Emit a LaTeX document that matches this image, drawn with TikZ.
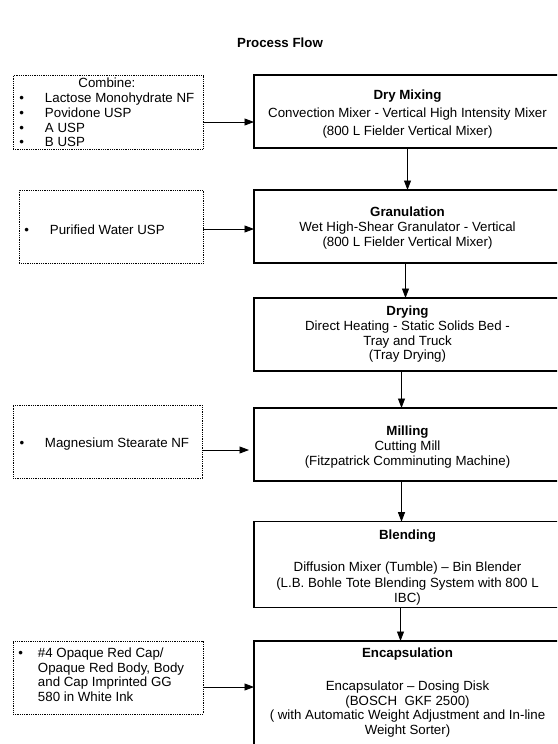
\documentclass[tikz,border=0pt]{standalone}
\usepackage{fontspec}
\setmainfont{Liberation Sans}
\usetikzlibrary{arrows.meta}
\newcommand\tstrut{\rule{0pt}{14.5pt}}
\begin{document}
\begin{tikzpicture}[x=1pt,y=-1pt,
  every node/.style={font=\fontsize{13.3}{15}\selectfont, inner sep=0pt, outer sep=0pt},
  mainbox/.style={minimum width=307pt, align=center},
  boxline/.style={line width=1.2pt},
  lbox/.style={draw, line width=0.6pt, dash pattern=on 0.9pt off 0.9pt},
  ltext/.style={anchor=west, align=left, font=\fontsize{13.3}{14.75}\selectfont},
  arr/.style={-{Triangle[length=9.5pt,width=7pt]}, line width=0.8pt}]
\useasboundingbox (0,0) rectangle (557,744);
\clip (0,0) rectangle (557,744);

\node[font=\bfseries\fontsize{13.3}{15}\selectfont] (title) at (280,43) {Process Flow};

% main process boxes
\node[mainbox, minimum height=73pt, font=\fontsize{13.3}{18}\selectfont] (dry) at (407.5,111.5)
  {\tstrut{\bfseries Dry Mixing}\\Convection Mixer - Vertical High Intensity Mixer\\(800 L Fielder Vertical Mixer)};
\node[mainbox, minimum height=73pt] (gran) at (407.5,226.5)
  {\rule{0pt}{13pt}{\bfseries Granulation}\\Wet High-Shear Granulator - Vertical\\(800 L Fielder Vertical Mixer)};
\node[mainbox, minimum height=73pt, font=\fontsize{13.3}{14.7}\selectfont] (dryg) at (407.5,334.5)
  {{\bfseries Drying}\\Direct Heating - Static Solids Bed -\\Tray and Truck\\(Tray Drying)};
\node[mainbox, minimum height=73pt] (mill) at (407.5,444.5)
  {\tstrut{\bfseries Milling}\\Cutting Mill\\(Fitzpatrick Comminuting Machine)};
\node[mainbox, minimum height=85.6pt, font=\fontsize{13.3}{15.5}\selectfont] (blend) at (407.5,564.5)
  {\rule{0pt}{15.5pt}{\bfseries Blending}\\\mbox{}\\[1.5pt]Diffusion Mixer (Tumble) -- Bin Blender\\(L.B. Bohle Tote Blending System with 800 L\\IBC)};
\node[mainbox, minimum height=115pt] (enc) at (407.5,698.5) {};
\node[anchor=north, align=center, font=\fontsize{13.3}{14.5}\selectfont] (enct) at ([yshift=-7.3pt]enc.north)
  {{\bfseries Encapsulation}\\\mbox{}\\[4pt]Encapsulator -- Dosing Disk\\(BOSCH\ \ GKF 2500)\\( with Automatic Weight Adjustment and In-line\\Weight Sorter)};

\foreach \n in {dry,gran,dryg,mill,blend,enc}
  \draw[boxline] (\n.north west) rectangle ([xshift=40pt]\n.south east);

% input boxes
\node[lbox, minimum width=190pt, minimum height=73.5pt] (L1) at (108,112.5) {};
\node[ltext] (L1t) at ([xshift=6.5pt,yshift=-2pt]L1.west)
  {\begin{tabular}{@{}p{25.5pt}@{}l@{}}\multicolumn{2}{c}{Combine:}\\
   \textbullet & Lactose Monohydrate NF\\
   \textbullet & Povidone USP\\
   \textbullet & A USP\\
   \textbullet & B USP\end{tabular}};

\node[lbox, minimum width=184pt, minimum height=73pt] (L2) at (111.3,226.5) {};
\node[ltext] (L2t) at ([xshift=5pt,yshift=-3pt]L2.west)
  {\makebox[25.6pt][l]{\textbullet}Purified Water USP};

\node[lbox, minimum width=189pt, minimum height=73pt] (L3) at (107.5,441.5) {};
\node[ltext] (L3t) at ([xshift=6.7pt,yshift=-3pt]L3.west)
  {\makebox[25.3pt][l]{\textbullet}Magnesium Stearate NF};

\node[lbox, minimum width=190pt, minimum height=73pt] (L4) at (108,677.5) {};
\node[ltext] (L4t) at ([xshift=5.4pt,yshift=1pt]L4.west)
  {\begin{tabular}{@{}p{19.6pt}@{}l@{}}
   \textbullet & \#4 Opaque Red Cap/\\
   & Opaque Red Body, Body\\
   & and Cap Imprinted GG\\
   & 580 in White Ink\end{tabular}};

% connectors
\coordinate (a1) at ([yshift=-9.5pt]L1.east);
\draw[arr] (a1) -- (a1 -| dry.west);
\coordinate (a2) at ([yshift=-2.5pt]L2.east);
\draw[arr] (a2) -- (a2 -| gran.west);
\coordinate (a3) at ([yshift=-8.5pt]L3.east);
\draw[arr, shorten >=5pt] (a3) -- (a3 -| mill.west);
\coordinate (a4) at ([yshift=-9.5pt]L4.east);
\draw[arr] (a4) -- (a4 -| enc.west);

\draw[arr] (dry.south) -- (gran.north);
\draw[arr] ([xshift=-2pt]gran.south) -- ([xshift=-2pt]dryg.north);
\draw[arr] ([xshift=-6pt]dryg.south) -- ([xshift=-6pt]mill.north);
\draw[arr] ([xshift=-6pt]mill.south) -- ([xshift=-6pt]blend.north);
\draw[arr] ([xshift=-7pt]blend.south) -- ([xshift=-7pt]enc.north);
\end{tikzpicture}
\end{document}
